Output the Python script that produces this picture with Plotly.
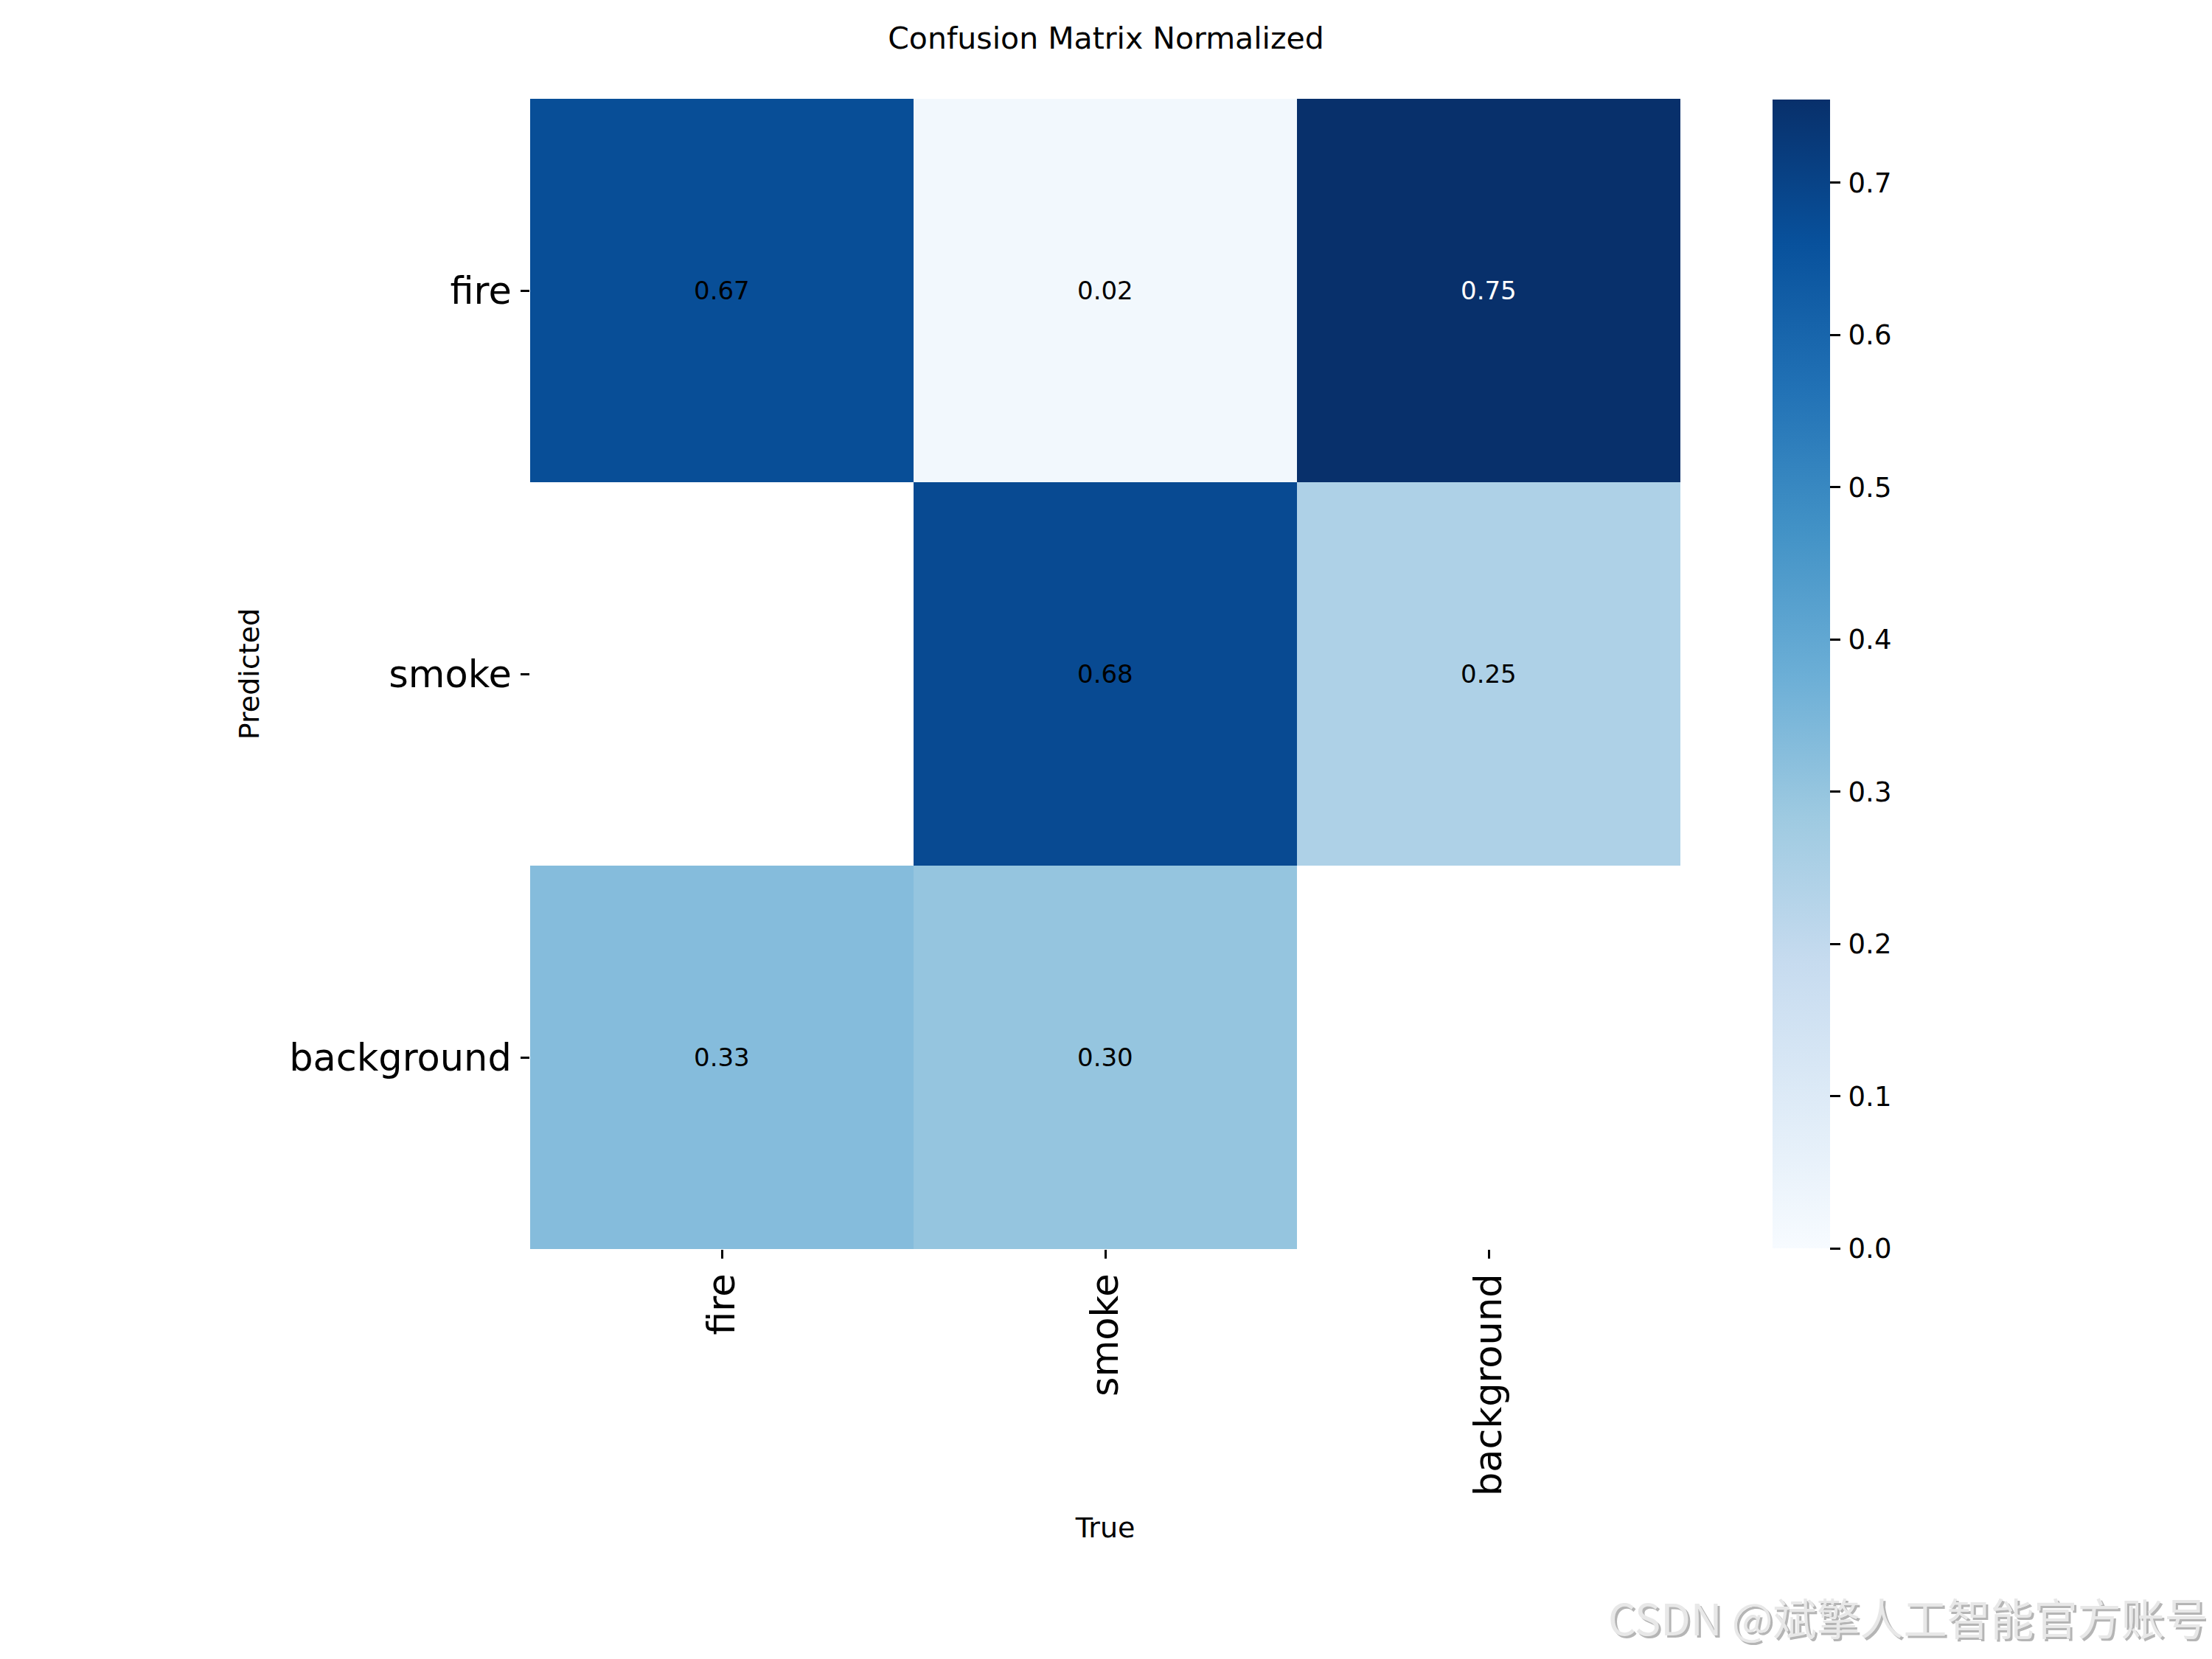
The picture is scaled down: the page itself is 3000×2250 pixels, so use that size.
import numpy as np
import plotly.graph_objects as go

#%% data
true_labels = ["fire", "smoke", "background"]
pred_labels = ["fire", "smoke", "background"]
# rows = Predicted, cols = True (None = empty cell)
row_fire = [0.67, 0.02, 0.7547]
row_smoke = [None, 0.68, 0.2453]
row_background = [0.33, 0.30, None]
cbar_ticks = [0.0, 0.1, 0.2, 0.3, 0.4, 0.5, 0.6, 0.7]

z = [row_fire, row_smoke, row_background]
z_arr = np.array(z, dtype=float)
zmax = np.nanmax(z_arr)

# page has an 8px body margin, so the figure is made that much smaller
OFF = 8
W, H = 3000 - OFF, 2250 - OFF
px = lambda v: (v - OFF) / W          # page x pixel -> paper
py = lambda v: 1 - (v - OFF) / H      # page y pixel -> paper
font = "DejaVu Sans"

fig = go.Figure()
fig.add_trace(go.Heatmap(
    z=z, x=true_labels, y=pred_labels,
    colorscale="Blues", zmin=0.0, zmax=zmax,
    hoverongaps=False,
    colorbar=dict(
        x=px(2404), xanchor="left", xpad=0,
        y=py(135), yanchor="top", ypad=0,
        len=1558, lenmode="pixels",
        thickness=78, thicknessmode="pixels",
        outlinewidth=0,
        tickvals=cbar_ticks, ticktext=["\u200a%.1f" % t for t in cbar_ticks],
        ticks="outside", ticklen=14, tickwidth=2.5, tickcolor="black",
        tickfont=dict(family=font, size=37, color="black"),
    ),
))

# cell annotations
for i, p in enumerate(pred_labels):
    for j, t in enumerate(true_labels):
        v = z_arr[i, j]
        if np.isnan(v):
            continue
        fig.add_annotation(x=t, y=p, xref="x", yref="y",
                           text="%.2f" % v, showarrow=False,
                           font=dict(family=font, size=34,
                                     color="white" if v > 0.72 else "black"))

axis = dict(showgrid=False, zeroline=False, showline=False,
            ticks="outside", ticklen=12, tickwidth=2.5, tickcolor="black",
            tickfont=dict(family=font, size=51, color="black"))
fig.update_xaxes(axis, domain=[px(719), px(2279)], tickangle=-90,
                 title=dict(text="True", standoff=30,
                            font=dict(family=font, size=38, color="black")))
fig.update_yaxes(axis, domain=[py(1694), py(134)], autorange="reversed",
                 ticklabelstandoff=2,
                 title=dict(text="Predicted", standoff=28,
                            font=dict(family=font, size=38, color="black")))

# watermark
wm = "CSDN @斌擎人工智能官方账号"
for dx, col in [(3, "#b5b5b5"), (0, "#e8e8e8")]:
    fig.add_annotation(x=px(3000), y=py(2192), xref="paper", yref="paper",
                       xanchor="right", yanchor="middle", showarrow=False, text=wm,
                       font=dict(family="Noto Sans CJK SC", size=59, color=col),
                       xshift=dx - 3, yshift=-dx)

fig.update_layout(
    width=W, height=H,
    margin=dict(l=0, r=0, t=0, b=0),
    paper_bgcolor="white", plot_bgcolor="white",
    title=dict(text="Confusion Matrix Normalized", x=0.5 - OFF / 2 / W, xanchor="center",
               y=py(52), yanchor="middle",
               font=dict(family=font, size=41, color="black")),
)
fig.write_html("out.html")
